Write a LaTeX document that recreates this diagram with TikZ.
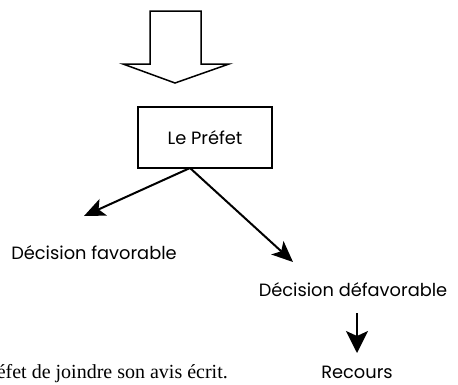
\documentclass[tikz,border=0pt]{standalone}
\usepackage{fontspec}
\setmainfont{Poppins}
\newfontfamily\bodyserif{Liberation Serif}
\usetikzlibrary{arrows.meta}
\begin{document}
\begin{tikzpicture}[x=1pt,y=-1pt,
  lbl/.style={font=\fontsize{17.8}{20}\selectfont, inner sep=0pt},
  boxnode/.style={draw, line width=2pt, minimum width=134pt, minimum height=61pt, inner sep=0pt, font=\fontsize{17.8}{20}\selectfont},
  conn/.style={line width=2pt, -{Stealth[length=21pt,width=18pt,inset=5pt]}},
  bigarrow/.style={draw, line width=1.5pt, line join=miter}]
\useasboundingbox (0,0) rectangle (458,384);
\clip (0,0) rectangle (458,384);
% big hollow arrow
\draw[bigarrow] (150,11) -- (201,11) -- (201,64) -- (229,64) -- (175,83) -- (123,64) -- (150,64) -- cycle;
% nodes
\node[boxnode] (prefet) at (205,137.5) {Le Préfet};
\node[lbl] (fav) at (94,253) {Décision favorable};
\node[lbl] (defav) at (353,290) {Décision défavorable};
\node[lbl] (recours) at (357,372) {Recours};
\coordinate (start) at (190,168);
\coordinate (tipL) at (84,216);
\coordinate (tipR) at (293,262);
\coordinate (downA) at (357,313);
\coordinate (downB) at (357,353);
\draw[conn] (start) -- (tipL);
\draw[conn] (start) -- (tipR);
\draw[line width=2pt, -{Stealth[length=22pt,width=22pt,inset=5pt]}] (downA) -- (downB);
% clipped body text
\node[anchor=base east, inner sep=0pt, font=\bodyserif\fontsize{20}{22}\selectfont] (body) at (228,378) {éfet de joindre son avis écrit.};
\end{tikzpicture}
\end{document}
